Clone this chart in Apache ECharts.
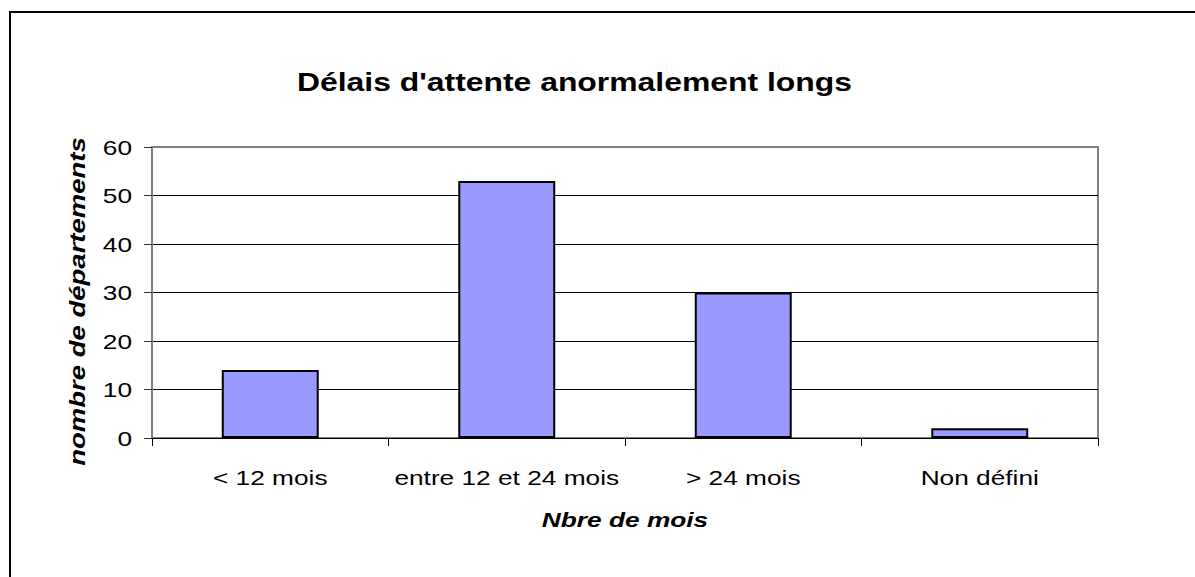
<!DOCTYPE html>
<html>
<head>
<meta charset="utf-8">
<script src="https://cdn.jsdelivr.net/npm/echarts@6/dist/echarts.min.js"></script>
<style>
  html, body { margin: 0; padding: 0; background: #fff; }
  #main { width: 1195px; height: 577px; }
</style>
</head>
<body>
<div id="main"></div>
<script>
const categories = ['< 12 mois', 'entre 12 et 24 mois', '> 24 mois', 'Non défini']
const departements = [14, 53, 30, 2]
const yMin = 0
const yMax = 60
const yStep = 10

// the original text is drawn wide, stretched along its reading direction
const STRETCH = 1.25
const font = '"Liberation Sans", Arial, sans-serif'

const dom = document.getElementById('main')
const chart = echarts.init(dom, null, { renderer: 'svg' })

const option = {
  animation: false,
  backgroundColor: '#fff',
  textStyle: { fontFamily: font, color: '#000' },
  title: {
    text: "Délais d'attente anormalement longs",
    left: 297,
    top: 69,
    padding: 0,
    textStyle: { fontFamily: font, fontSize: 25.5, fontWeight: 'bold', color: '#000' }
  },
  graphic: [
    {
      type: 'rect',
      silent: true,
      shape: { x: 10, y: 12, width: 1400, height: 800 },
      style: { fill: 'none', stroke: '#000', lineWidth: 2 }
    }
  ],
  grid: {
    left: 152,
    right: 97,
    top: 147,
    bottom: 139,
    show: true,
    borderColor: '#808080',
    borderWidth: 2,
    backgroundColor: '#fff'
  },
  xAxis: {
    type: 'category',
    data: categories,
    name: 'Nbre de mois',
    nameLocation: 'middle',
    nameGap: 71,
    nameTextStyle: { fontFamily: font, fontSize: 21, fontWeight: 'bold', fontStyle: 'italic', color: '#000' },
    axisLine: { lineStyle: { color: '#000', width: 1 } },
    axisTick: { show: true, length: 8, lineStyle: { color: '#000' } },
    axisLabel: { fontFamily: font, fontSize: 21, color: '#000', margin: 29, interval: 0 }
  },
  yAxis: {
    type: 'value',
    min: yMin,
    max: yMax,
    interval: yStep,
    name: 'nombre de départements',
    nameLocation: 'middle',
    nameGap: 64,
    nameTextStyle: {
      fontFamily: font, fontSize: 22, fontWeight: 'bold', fontStyle: 'italic', color: '#000',
      padding: [0, 18, 0, 0]
    },
    axisLine: { show: true, lineStyle: { color: '#808080', width: 2 } },
    axisTick: { show: true, length: 8, lineStyle: { color: '#333' } },
    axisLabel: { fontFamily: font, fontSize: 21, color: '#000', margin: 20 },
    splitLine: { show: true, showMaxLine: false, lineStyle: { color: '#000', width: 1 } }
  },
  series: [
    {
      type: 'bar',
      data: departements,
      barWidth: '41%',
      itemStyle: { color: '#9999FF', borderColor: '#000', borderWidth: 2 }
    }
  ]
}

chart.setOption(option)

function stretchTexts () {
  dom.querySelectorAll('text').forEach(t => {
    if (t.getAttribute('data-w')) return
    const w = t.getComputedTextLength()
    if (!w) return
    t.setAttribute('data-w', w)
    t.setAttribute('textLength', w * STRETCH)
    t.setAttribute('lengthAdjust', 'spacingAndGlyphs')
  })
}
chart.on('finished', stretchTexts)
stretchTexts()
</script>
</body>
</html>
